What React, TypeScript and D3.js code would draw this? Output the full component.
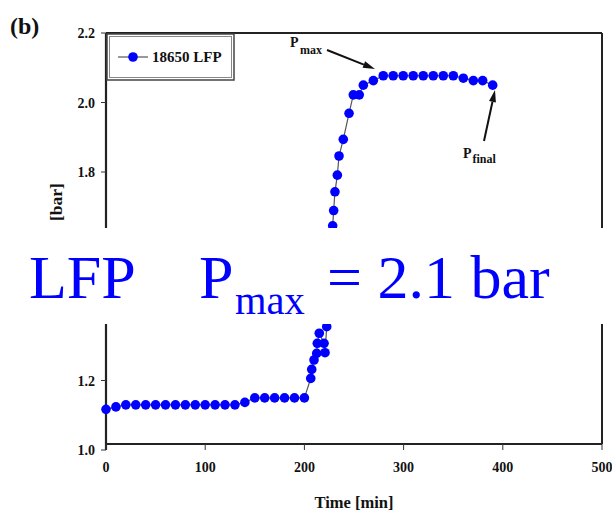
import React from "react";
import * as d3 from "d3";

const times: number[] = [
  0, 10, 20, 30, 40, 50, 60, 70, 80, 90, 100, 110, 120, 130, 140, 150, 160, 170, 180, 190, 200,
  206.4, 207.4, 209.7, 212.4, 213, 215, 219.8, 220.8, 222.5,
  228.5, 229.5, 230.8, 233.2, 234.9, 239.2, 245, 249.3, 255.3, 259.4,
  269.5, 279.5, 289.5, 299.6, 309.7, 319.8, 329.9, 340, 350.1, 360.2, 370.3, 379.7, 389.8,
];
const pressures: number[] = [
  1.117, 1.124, 1.13, 1.13, 1.13, 1.13, 1.13, 1.13, 1.13, 1.13, 1.13, 1.13, 1.13, 1.13, 1.137, 1.15, 1.15, 1.15, 1.15, 1.15, 1.15,
  1.206, 1.232, 1.259, 1.278, 1.307, 1.336, 1.307, 1.28, 1.355,
  1.645, 1.689, 1.743, 1.791, 1.846, 1.894, 1.969, 2.022, 2.022, 2.05,
  2.063, 2.077, 2.077, 2.077, 2.077, 2.077, 2.077, 2.077, 2.077, 2.07, 2.063, 2.063, 2.05,
];
const xTicks: number[] = [0, 100, 200, 300, 400, 500];
const yTicks: number[] = [1.0, 1.2, 1.8, 2.0, 2.2];
const seriesName = "18650 LFP";

const FONT = "'Liberation Serif', 'Times New Roman', serif";
const BLUE = "#0000ff";

function Arrow({ x1, y1, x2, y2 }: { x1: number; y1: number; x2: number; y2: number }) {
  const ang = Math.atan2(y2 - y1, x2 - x1);
  const L = 12, W = 3.5;
  const bx = x2 - L * Math.cos(ang), by = y2 - L * Math.sin(ang);
  const px = -Math.sin(ang) * W, py = Math.cos(ang) * W;
  return (
    <g>
      <line x1={x1} y1={y1} x2={bx} y2={by} stroke="#111" strokeWidth={2} />
      <polygon points={`${x2},${y2} ${bx + px},${by + py} ${bx - px},${by - py}`} fill="#111" />
    </g>
  );
}

export default function App() {
  const x = d3.scaleLinear().domain([0, 500]).range([106, 602]);
  const y = d3.scaleLinear().domain([1.0, 2.2]).range([450, 33]);
  const xAxisY = 444;
  const data = times.map((t, i) => [t, pressures[i]] as [number, number]);
  const line = d3.line<[number, number]>().x((d) => x(d[0])).y((d) => y(d[1]));

  return (
    <svg width={612} height={513} style={{ position: "absolute", left: 0, top: 0, background: "#fff" }} fontFamily={FONT}>
      <rect x={0} y={0} width={612} height={513} fill="#fff" />
      <text x={10} y={34} fontSize={24} fontWeight="bold" fill="#111">(b)</text>

      {/* frame */}
      <line x1={x(0)} y1={y(2.2)} x2={x(500)} y2={y(2.2)} stroke="#222" strokeWidth={2} />
      <line x1={x(500)} y1={y(2.2)} x2={x(500)} y2={xAxisY} stroke="#222" strokeWidth={2} />
      <line x1={x(0)} y1={xAxisY} x2={x(500)} y2={xAxisY} stroke="#222" strokeWidth={2.2} />
      <line x1={x(0)} y1={y(2.2)} x2={x(0)} y2={y(1.0)} stroke="#222" strokeWidth={2.2} />

      {yTicks.map((v) => (
        <g key={"y" + v}>
          <line x1={x(0) - 5} x2={x(0)} y1={y(v)} y2={y(v)} stroke="#333" strokeWidth={1} />
          <text x={x(0) - 11} y={y(v) + 5} fontSize={14} fontWeight="bold" textAnchor="end" fill="#111">{v.toFixed(1)}</text>
        </g>
      ))}
      {xTicks.map((v) => (
        <g key={"x" + v}>
          <line x1={x(v)} x2={x(v)} y1={xAxisY} y2={xAxisY + 6} stroke="#333" strokeWidth={1} />
          <text x={x(v)} y={472} fontSize={14} fontWeight="bold" textAnchor="middle" fill="#111">{v}</text>
        </g>
      ))}
      <text x={354} y={508} fontSize={16.5} fontWeight="bold" textAnchor="middle" fill="#111">Time [min]</text>
      <text transform="translate(62,202) rotate(-90)" fontSize={17.5} fontWeight="bold" textAnchor="middle" fill="#111">[bar]</text>

      {/* series */}
      <path d={line(data) || ""} fill="none" stroke="#555" strokeWidth={1.2} />
      {data.map((d, i) => (
        <circle key={i} cx={x(d[0])} cy={y(d[1])} r={4.8} fill={BLUE} />
      ))}

      {/* legend */}
      <rect x={107} y={34} width={127} height={46} fill="#fff" stroke="#444" strokeWidth={1.5} />
      <rect x={109.5} y={36.5} width={122} height={41} fill="none" stroke="#888" strokeWidth={1} />
      <line x1={118} x2={148} y1={57} y2={57} stroke="#555" strokeWidth={1.2} />
      <circle cx={133} cy={57} r={4.8} fill={BLUE} />
      <text x={152} y={62} fontSize={15} fontWeight="bold" fill="#111">{seriesName}</text>

      {/* annotations */}
      <text x={290} y={47} fontSize={14} fontWeight="bold" fill="#111">P</text>
      <text x={300} y={54} fontSize={12} fontWeight="bold" fill="#111">max</text>
      <Arrow x1={327} y1={50} x2={375} y2={69} />
      <text x={463} y={158} fontSize={14} fontWeight="bold" fill="#111">P</text>
      <text x={472.5} y={163} fontSize={12} fontWeight="bold" fill="#111">final</text>
      <Arrow x1={484} y1={141} x2={495} y2={90} />

      {/* overlay */}
      <rect x={0} y={228} width={612} height={96} fill="#fff" />
      <text x={29} y={298} fontSize={62} fill={BLUE}>LFP</text>
      <text x={199} y={298} fontSize={62} fill={BLUE}>P</text>
      <text x={235} y={314} fontSize={40.5} fill={BLUE}>max</text>
      <text x={327} y={298} fontSize={62} fill={BLUE}>= 2.1 bar</text>
    </svg>
  );
}
